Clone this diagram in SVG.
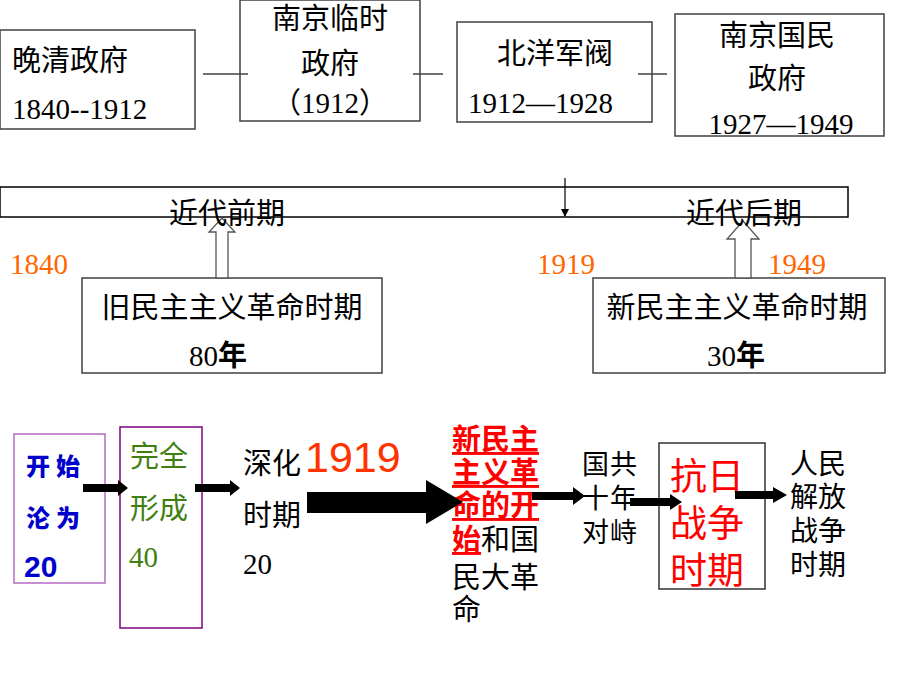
<svg xmlns="http://www.w3.org/2000/svg" width="900" height="675" viewBox="0 0 900 675">
<defs>
<style>
.serif{font-family:"Liberation Serif","Noto Sans CJK SC",serif;}
.sans{font-family:"Liberation Sans","Noto Sans CJK SC",sans-serif;}
.box{fill:#fff;stroke:#404040;stroke-width:1.5;}
.conn{stroke:#404040;stroke-width:1.5;fill:none;}
.blk{fill:#000;}
.orange{fill:#FF6600;}
.mid{text-anchor:middle;}
.hollow{fill:#fff;stroke:#555;stroke-width:1.3;}
.heavy{font-family:"Noto Sans CJK SC",sans-serif;font-weight:900;fill:#0000CC;}
</style>
<marker id="ah" markerWidth="8" markerHeight="8" refX="7" refY="4" orient="auto" markerUnits="userSpaceOnUse">
<path d="M0,0 L8,4 L0,8 Z" fill="#000"/>
</marker>
</defs>
<rect width="900" height="675" fill="#fff"/>

<g id="wanqing">
<rect class="box" x="0" y="30" width="195" height="99"/>
<text class="serif" x="12" y="71" font-size="29">晚清政府</text>
<text class="serif" x="12" y="119" font-size="29">1840--1912</text>
</g>
<g id="nanjing-linshi">
<rect class="box" x="240" y="0" width="180" height="121"/>
<text class="serif mid" x="330" y="29" font-size="29">南京临时</text>
<text class="serif mid" x="330" y="74" font-size="29">政府</text>
<text class="serif mid" x="330" y="113" font-size="29">（1912）</text>
</g>
<g id="beiyang">
<rect class="box" x="457" y="22" width="195" height="100"/>
<text class="serif mid" x="555" y="64" font-size="29">北洋军阀</text>
<text class="serif" x="468" y="113" font-size="29">1912—1928</text>
</g>
<g id="nanjing-guomin">
<rect class="box" x="675" y="14" width="209" height="122"/>
<text class="serif mid" x="777" y="46" font-size="29">南京国民</text>
<text class="serif mid" x="777" y="89" font-size="29">政府</text>
<text class="serif mid" x="781" y="134" font-size="29">1927—1949</text>
</g>

<g id="timeline">
<rect x="0" y="187" width="848" height="30" fill="#fff" stroke="#000" stroke-width="1.5"/>
</g>

<g id="jiu-minzhu">
<rect class="box" x="82" y="278" width="300" height="95"/>
<text class="serif mid" x="232" y="318" font-size="29">旧民主主义革命时期</text>
<text class="serif mid" x="218" y="366" font-size="29">80<tspan font-weight="bold">年</tspan></text>
</g>
<g id="xin-minzhu">
<rect class="box" x="593" y="278" width="292" height="95"/>
<text class="serif mid" x="737" y="318" font-size="29">新民主主义革命时期</text>
<text class="serif mid" x="736" y="366" font-size="29">30<tspan font-weight="bold">年</tspan></text>
</g>

<g id="years">
<text class="serif orange" x="10" y="274" font-size="29">1840</text>
<text class="serif orange" x="537" y="274" font-size="29">1919</text>
<text class="serif orange" x="768" y="274" font-size="29">1949</text>
</g>

<g id="stage1">
<rect x="14" y="434" width="91" height="149" fill="none" stroke="#B36BC4" stroke-width="1.5"/>
<text class="heavy" x="26" y="475" font-size="24" letter-spacing="6">开始</text>
<text class="heavy" x="26" y="527" font-size="24" letter-spacing="6">沦为</text>
<text class="sans" x="24" y="577" font-size="30" font-weight="bold" fill="#0000CC">20</text>
</g>
<g id="stage2">
<rect x="120" y="427" width="82" height="201" fill="none" stroke="#800080" stroke-width="1.5"/>
<text class="sans" x="130" y="467" font-size="29" fill="#3F7F0F">完全</text>
<text class="sans" x="130" y="519" font-size="29" fill="#3F7F0F">形成</text>
<text class="serif" x="129" y="567" font-size="29" fill="#3F7F0F">40</text>
</g>
<g id="stage3">
<text class="serif" x="243" y="474" font-size="29">深化</text>
<text class="serif" x="243" y="526" font-size="29">时期</text>
<text class="serif" x="243" y="574" font-size="29">20</text>
</g>
<g id="year1919">
<text class="sans" x="305" y="472" font-size="43" fill="#FF3300">1919</text>
</g>
<g id="stage4">
<text class="sans" font-size="29">
<tspan x="452" y="450" fill="#FF0000" font-weight="bold" text-decoration="underline">新民主</tspan>
<tspan x="452" y="483" fill="#FF0000" font-weight="bold" text-decoration="underline">主义革</tspan>
<tspan x="452" y="516" fill="#FF0000" font-weight="bold" text-decoration="underline">命的开</tspan>
<tspan x="452" y="550" fill="#FF0000" font-weight="bold" text-decoration="underline">始</tspan><tspan fill="#000">和国</tspan>
<tspan x="452" y="588" fill="#000">民大革</tspan>
<tspan x="452" y="620" fill="#000">命</tspan>
</text>
</g>
<g id="stage5">
<text class="serif" x="582" y="474" font-size="27" letter-spacing="1">国共</text>
<text class="serif" x="582" y="508" font-size="27" letter-spacing="1">十年</text>
<text class="serif" x="582" y="542" font-size="27" letter-spacing="1">对峙</text>
</g>
<g id="stage6">
<rect x="659" y="443" width="106" height="146" fill="none" stroke="#333" stroke-width="1.5"/>
<text class="sans" x="670" y="490" font-size="37" fill="#FF0000">抗日</text>
<text class="sans" x="670" y="537" font-size="37" fill="#FF0000">战争</text>
<text class="sans" x="670" y="584" font-size="37" fill="#FF0000">时期</text>
</g>
<g id="stage7">
<text class="serif" x="790" y="474" font-size="28">人民</text>
<text class="serif" x="790" y="507" font-size="28">解放</text>
<text class="serif" x="790" y="541" font-size="28">战争</text>
<text class="serif" x="790" y="575" font-size="28">时期</text>
</g>

<g id="connectors">
<line class="conn" x1="203" y1="74" x2="248" y2="74"/>
<line class="conn" x1="413" y1="74" x2="443" y2="74"/>
<line class="conn" x1="638" y1="74" x2="667" y2="74"/>
<line x1="565" y1="178" x2="565" y2="216" stroke="#000" stroke-width="1.2" marker-end="url(#ah)"/>
<polygon class="hollow" points="222,218 235,232 228,232 228,278 216,278 216,232 209,232"/>
<polygon class="hollow" points="743,221 759,239 751,239 751,278 735,278 735,239 727,239"/>
<polygon class="blk" points="83,484 118,484 118,480 128,488 118,496 118,492 83,492"/>
<polygon class="blk" points="195,484 230,484 230,480 240,488 230,496 230,492 195,492"/>
<polygon class="blk" points="307,492 426,492 426,480 463,502 426,524 426,513 307,513"/>
<polygon class="blk" points="532,492 573,492 573,487 585,496 573,505 573,500 532,500"/>
<polygon class="blk" points="630,498 670,498 670,494 682,502 670,510 670,506 630,506"/>
<polygon class="blk" points="735,491 773,491 773,487 787,495 773,503 773,499 735,499"/>
</g>

<g id="timeline-labels">
<text class="serif mid" x="227" y="224" font-size="29">近代前期</text>
<text class="serif mid" x="744" y="224" font-size="29">近代后期</text>
</g>
</svg>
